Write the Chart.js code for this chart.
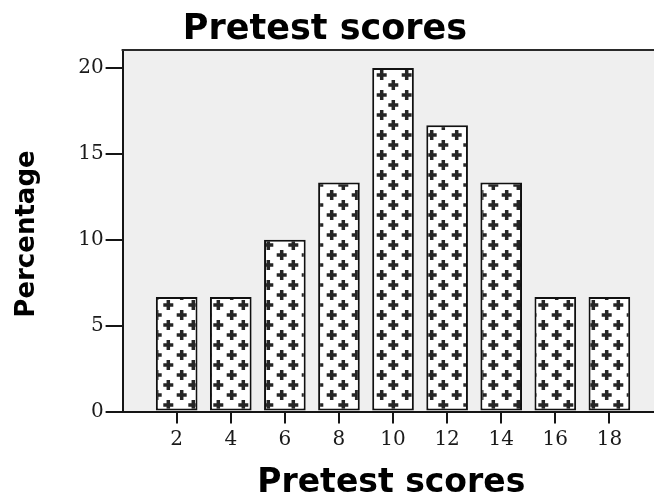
<!DOCTYPE html>
<html>
<head>
<meta charset="utf-8">
<script src="https://cdn.jsdelivr.net/npm/chart.js@4.4.0/dist/chart.umd.min.js"></script>
<style>
  html, body { margin: 0; padding: 0; background: #ffffff; overflow: hidden; }
  #wrap { position: relative; width: 654px; height: 496px; }
</style>
</head>
<body>
<div id="wrap"><canvas id="c" width="654" height="496"></canvas></div>
<script>
// Score values on the horizontal axis and the share of students at each
const scores = [2, 4, 6, 8, 10, 12, 14, 16, 18];
const percentages = [6.67, 6.67, 10, 13.33, 20, 16.67, 13.33, 6.67, 6.67];
const yTickValues = [0, 5, 10, 15, 20];

const chartTitle = 'Pretest scores';
const xTitle = 'Pretest scores';
const yTitle = 'Percentage';

// White fill with a staggered grid of small dark plus signs
function makePlusPattern(ctx) {
  const tile = document.createElement('canvas');
  tile.width = 25;
  tile.height = 20;
  const g = tile.getContext('2d');
  g.fillStyle = '#ffffff';
  g.fillRect(0, 0, 25, 20);
  g.filter = 'blur(0.5px)';
  g.fillStyle = '#262626';
  const plus = (cx, cy) => {
    for (const dx of [-25, 0, 25]) {
      for (const dy of [-20, 0, 20]) {
        const x = cx + dx, y = cy + dy;
        g.fillRect(x - 5, y - 1.75, 10, 3.5);
        g.fillRect(x - 1.75, y - 5, 3.5, 10);
      }
    }
  };
  plus(18.3, 5);
  plus(6.7, 15);
  return ctx.createPattern(tile, 'repeat');
}

// Grey plot background, top frame line and the three titles
const plotFrame = {
  id: 'plotFrame',
  beforeDraw(chart) {
    const { ctx, chartArea: a } = chart;
    ctx.save();
    ctx.fillStyle = '#efefef';
    ctx.fillRect(a.left, a.top, a.right - a.left, a.bottom - a.top);
    ctx.restore();
  },
  afterDraw(chart) {
    const { ctx, chartArea: a } = chart;
    ctx.save();
    ctx.strokeStyle = '#2a2a2a';
    ctx.lineWidth = 2;
    ctx.beginPath();
    ctx.moveTo(a.left - 1, a.top);
    ctx.lineTo(a.right, a.top);
    ctx.stroke();

    ctx.fillStyle = '#000000';
    ctx.textAlign = 'center';
    ctx.textBaseline = 'alphabetic';
    ctx.font = 'bold 35px "DejaVu Sans"';
    ctx.fillText(chartTitle, 325, 39);

    ctx.font = 'bold 33px "DejaVu Sans"';
    ctx.fillText(xTitle, (a.left + a.right) / 2 + 3, 492);

    ctx.font = 'bold 26px "DejaVu Sans"';
    ctx.translate(34, 234);
    ctx.rotate(-Math.PI / 2);
    ctx.fillText(yTitle, 0, 0);
    ctx.restore();
  }
};

const canvas = document.getElementById('c');
const ctx = canvas.getContext('2d');
const tickFont = { family: '"DejaVu Serif"', size: 20 };

new Chart(ctx, {
  type: 'bar',
  data: {
    datasets: [{
      data: scores.map((s, i) => ({ x: s, y: percentages[i] })),
      backgroundColor: makePlusPattern(ctx),
      borderColor: '#111111',
      borderWidth: 2,
      borderSkipped: false,
      barPercentage: 0.77,
      categoryPercentage: 1
    }]
  },
  options: {
    responsive: false,
    animation: false,
    devicePixelRatio: 1,
    layout: { padding: { top: 50, left: 0, right: 0, bottom: 0 } },
    plugins: {
      legend: { display: false },
      tooltip: { enabled: false },
      title: { display: false }
    },
    scales: {
      x: {
        type: 'linear',
        min: 0,
        max: 19.65,
        offset: false,
        afterBuildTicks: s => { s.ticks = scores.map(v => ({ value: v })); },
        afterFit: s => { s.height = 84.5; },
        grid: { drawOnChartArea: false, drawTicks: true, tickLength: 12, color: '#151515', lineWidth: 2, offset: false },
        border: { display: true, color: '#151515', width: 2 },
        ticks: { font: tickFont, color: '#1a1a1a', padding: 4, maxRotation: 0, autoSkip: false }
      },
      y: {
        min: 0,
        max: 21.05,
        afterBuildTicks: s => { s.ticks = yTickValues.map(v => ({ value: v })); },
        afterFit: s => { s.width = 122.6; },
        grid: { drawOnChartArea: false, drawTicks: true, tickLength: 17, color: '#151515', lineWidth: 2 },
        border: { display: true, color: '#151515', width: 2 },
        ticks: { font: tickFont, color: '#1a1a1a', padding: 2 }
      }
    }
  },
  plugins: [plotFrame]
});
</script>
</body>
</html>
